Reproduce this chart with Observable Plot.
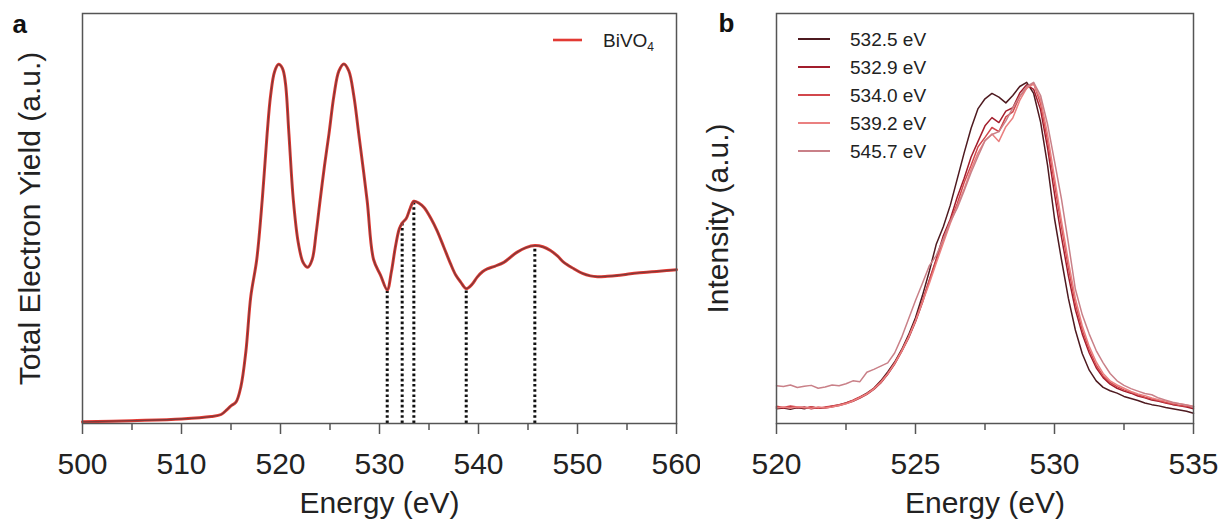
<!DOCTYPE html>
<html><head><meta charset="utf-8">
<script src="https://cdn.jsdelivr.net/npm/d3@7"></script>
<script src="https://cdn.jsdelivr.net/npm/@observablehq/plot@0.6"></script>
<style>
body{margin:0;background:#fff;}
#wrap{display:flex;width:1231px;height:520px;}
</style></head><body><div id="wrap"></div>
<script>
// ---------- Panel a data ----------
const energyA = [500, 505, 510, 513, 514, 514.6, 515.0, 515.5, 516.0, 516.5, 517.0, 517.6, 518.15, 518.65, 519.0, 519.4, 519.8, 520.2, 520.5, 520.85, 521.3, 521.8, 522.3, 522.76, 523.2, 523.6, 524.0, 524.45, 524.9, 525.4, 525.9, 526.4, 526.9, 527.4, 527.9, 528.75, 529.4, 530.1, 530.78, 531.2, 531.6, 532.0, 532.29, 532.7, 533.1, 533.47, 534.0, 534.5, 535.2, 535.8, 536.5, 537.17, 537.7, 538.2, 538.76, 539.3, 539.87, 540.4, 540.88, 541.7, 542.56, 543.2, 543.91, 544.8, 545.69, 546.5, 547.27, 548.0, 548.62, 549.6, 550.5, 551.3, 552.0, 553.0, 554.0, 555.0, 556.0, 557.0, 558.0, 559.0, 560.0];
const teyA = [0.004, 0.007, 0.011, 0.017, 0.022, 0.034, 0.043, 0.052, 0.09, 0.175, 0.31, 0.40, 0.544, 0.707, 0.80, 0.858, 0.876, 0.866, 0.83, 0.707, 0.544, 0.44, 0.392, 0.381, 0.40, 0.465, 0.544, 0.63, 0.707, 0.80, 0.86, 0.877, 0.86, 0.80, 0.707, 0.544, 0.40, 0.362, 0.326, 0.37, 0.43, 0.475, 0.489, 0.500, 0.525, 0.542, 0.537, 0.527, 0.50, 0.471, 0.43, 0.39, 0.362, 0.345, 0.329, 0.338, 0.357, 0.37, 0.377, 0.384, 0.393, 0.405, 0.418, 0.429, 0.434, 0.431, 0.422, 0.408, 0.393, 0.378, 0.366, 0.360, 0.358, 0.359, 0.361, 0.364, 0.367, 0.369, 0.371, 0.373, 0.375];
const dropEnergy = [530.78, 532.29, 533.47, 538.76, 545.69];
const dropTop = [0.326, 0.489, 0.542, 0.329, 0.434];
const majorTicksA = [500, 510, 520, 530, 540, 550, 560];
const minorTicksA = [505, 515, 525, 535, 545, 555];
const legendA = "BiVO";
const legendASub = "4";

// ---------- Panel b data ----------
const energyB = [520, 520.25, 520.5, 520.75, 521, 521.25, 521.5, 521.75, 522, 522.25, 522.5, 522.75, 523, 523.25, 523.5, 523.75, 524, 524.25, 524.5, 524.75, 525, 525.25, 525.5, 525.75, 526, 526.25, 526.5, 526.75, 527, 527.25, 527.5, 527.75, 528, 528.25, 528.5, 528.75, 529, 529.25, 529.5, 529.75, 530, 530.25, 530.5, 530.75, 531, 531.25, 531.5, 531.75, 532, 532.25, 532.5, 532.75, 533, 533.25, 533.5, 533.75, 534, 534.25, 534.5, 534.75, 535];
const s5325 = [0.036,0.038,0.035,0.039,0.036,0.040,0.037,0.039,0.042,0.045,0.050,0.056,0.064,0.074,0.086,0.104,0.126,0.150,0.180,0.216,0.258,0.312,0.372,0.438,0.480,0.532,0.596,0.660,0.720,0.768,0.792,0.805,0.796,0.782,0.800,0.822,0.832,0.805,0.735,0.630,0.500,0.400,0.305,0.228,0.170,0.130,0.104,0.088,0.080,0.074,0.066,0.061,0.056,0.050,0.046,0.043,0.039,0.036,0.033,0.030,0.025];
const s5329 = [0.040,0.037,0.041,0.038,0.040,0.036,0.039,0.038,0.041,0.044,0.049,0.054,0.062,0.071,0.083,0.099,0.120,0.145,0.175,0.208,0.248,0.295,0.350,0.402,0.458,0.498,0.552,0.598,0.650,0.688,0.726,0.746,0.734,0.762,0.770,0.806,0.826,0.815,0.765,0.672,0.560,0.455,0.360,0.278,0.218,0.172,0.136,0.112,0.096,0.086,0.079,0.074,0.067,0.063,0.057,0.054,0.050,0.046,0.043,0.040,0.036];
const s5340 = [0.042,0.039,0.043,0.040,0.038,0.041,0.037,0.040,0.043,0.046,0.050,0.057,0.065,0.073,0.086,0.102,0.122,0.148,0.178,0.212,0.252,0.300,0.350,0.398,0.448,0.495,0.536,0.588,0.630,0.675,0.698,0.722,0.712,0.748,0.760,0.798,0.818,0.830,0.780,0.690,0.585,0.480,0.380,0.292,0.228,0.180,0.142,0.116,0.100,0.090,0.082,0.076,0.070,0.064,0.060,0.056,0.051,0.048,0.044,0.042,0.040];
const s5392 = [0.038,0.040,0.037,0.041,0.039,0.037,0.040,0.038,0.040,0.044,0.048,0.055,0.063,0.072,0.084,0.100,0.121,0.146,0.176,0.210,0.250,0.296,0.342,0.392,0.440,0.488,0.530,0.572,0.620,0.660,0.690,0.706,0.688,0.724,0.745,0.788,0.818,0.828,0.790,0.705,0.600,0.495,0.395,0.305,0.238,0.188,0.150,0.122,0.104,0.094,0.086,0.078,0.072,0.068,0.062,0.058,0.055,0.050,0.048,0.045,0.042];
const s5457 = [0.092,0.090,0.094,0.088,0.091,0.093,0.086,0.089,0.094,0.092,0.097,0.104,0.102,0.125,0.132,0.140,0.148,0.172,0.210,0.255,0.300,0.342,0.385,0.410,0.450,0.492,0.525,0.568,0.612,0.652,0.690,0.705,0.712,0.738,0.770,0.798,0.822,0.832,0.800,0.730,0.640,0.548,0.440,0.328,0.265,0.218,0.178,0.148,0.122,0.104,0.093,0.085,0.079,0.073,0.070,0.062,0.057,0.052,0.048,0.045,0.041];
const seriesNames = ["532.5 eV", "532.9 eV", "534.0 eV", "539.2 eV", "545.7 eV"];
const seriesValues = [s5325, s5329, s5340, s5392, s5457];
const seriesColors = ["#4e1a20", "#a21d2c", "#d2474c", "#ea8080", "#c98088"];
const majorTicksB = [520, 525, 530, 535];
const minorTicksB = [522.5, 527.5, 532.5];

// ---------- Build ----------
const font = "'Liberation Sans', Arial, Helvetica, sans-serif";
const ink = "#222";
const axisGray = "#555";

const dataA = energyA.map((e, i) => ({e, v: teyA[i]}));
const drops = dropEnergy.map((e, i) => ({e, top: dropTop[i]}));

const plotA = Plot.plot({
  width: 700, height: 520,
  marginLeft: 82, marginRight: 24, marginTop: 13, marginBottom: 97,
  style: {fontFamily: font, fontSize: "30px", color: ink, background: "white", overflow: "visible"},
  x: {domain: [500, 560]},
  y: {domain: [0, 1], axis: null},
  marks: [
    Plot.ruleX(drops, {x: "e", y1: 0, y2: "top", stroke: "#111", strokeWidth: 3, strokeDasharray: "2.6,2.6"}),
    Plot.line(dataA, {x: "e", y: "v", stroke: "#e23a33", strokeWidth: 3, curve: "catmull-rom"}),
    Plot.line(dataA, {x: "e", y: "v", stroke: "#7e3a3a", strokeWidth: 1.3, curve: "catmull-rom"}),
    Plot.frame({stroke: axisGray, strokeWidth: 1.5}),
    Plot.axisX({ticks: minorTicksA, tickSize: 7, tickFormat: () => "", label: null, stroke: axisGray, strokeWidth: 1.5}),
    Plot.axisX({ticks: majorTicksA, tickSize: 11, tickPadding: 18, label: null, stroke: axisGray, strokeWidth: 1.5, fill: ink}),
    Plot.text(["Energy (eV)"], {frameAnchor: "bottom", lineAnchor: "middle", textAnchor: "middle", dy: 80, fontSize: 30, fill: ink}),
    Plot.text(["Total Electron Yield (a.u.)"], {frameAnchor: "left", textAnchor: "middle", lineAnchor: "middle", dx: -52, rotate: -90, fontSize: 30, fill: ink}),
    Plot.text(["a"], {frameAnchor: "top-left", lineAnchor: "middle", dx: -70, dy: 11, fontWeight: "bold", fontSize: 26, textAnchor: "start", fill: "#111"})
  ]
});

const dataB = [];
seriesNames.forEach((name, k) => {
  energyB.forEach((e, i) => dataB.push({e, v: seriesValues[k][i], s: name}));
});

const plotB = Plot.plot({
  width: 531, height: 520,
  marginLeft: 76, marginRight: 38, marginTop: 13, marginBottom: 97,
  style: {fontFamily: font, fontSize: "30px", color: ink, background: "white", overflow: "visible"},
  x: {domain: [520, 535]},
  y: {domain: [0, 1], axis: null},
  color: {domain: seriesNames, range: seriesColors},
  marks: [
    Plot.line(dataB, {x: "e", y: "v", z: "s", stroke: "s", strokeWidth: 1.5}),
    Plot.frame({stroke: axisGray, strokeWidth: 1.5}),
    Plot.axisX({ticks: minorTicksB, tickSize: 7, tickFormat: () => "", label: null, stroke: axisGray, strokeWidth: 1.5}),
    Plot.axisX({ticks: majorTicksB, tickSize: 11, tickPadding: 18, label: null, stroke: axisGray, strokeWidth: 1.5, fill: ink}),
    Plot.text(["Energy (eV)"], {frameAnchor: "bottom", lineAnchor: "middle", textAnchor: "middle", dy: 80, fontSize: 30, fill: ink}),
    Plot.text(["Intensity (a.u.)"], {frameAnchor: "left", textAnchor: "middle", lineAnchor: "middle", dx: -58, rotate: -90, fontSize: 30, fill: ink}),
    Plot.text(["b"], {frameAnchor: "top-left", lineAnchor: "middle", dx: -58, dy: 10, fontWeight: "bold", fontSize: 26, textAnchor: "start", fill: "#111"})
  ]
});

// Legends (drawn inside each SVG)
const gA = d3.select(plotA).append("g").attr("font-family", font).attr("text-anchor", "start");
gA.append("line").attr("x1", 553).attr("x2", 582).attr("y1", 40).attr("y2", 40)
  .attr("stroke", "#e23a33").attr("stroke-width", 2.6);
const tA = gA.append("text").attr("x", 603).attr("y", 47).attr("font-size", 19).attr("fill", ink);
tA.append("tspan").text(legendA);
tA.append("tspan").text(legendASub).attr("font-size", 12).attr("dy", 4);

const gB = d3.select(plotB).append("g").attr("font-family", font).attr("text-anchor", "start");
seriesNames.forEach((name, k) => {
  const y = 39 + k * 28;
  gB.append("line").attr("x1", 98).attr("x2", 130).attr("y1", y).attr("y2", y)
    .attr("stroke", seriesColors[k]).attr("stroke-width", 2);
  gB.append("text").attr("x", 150).attr("y", y).attr("dy", "0.35em")
    .attr("font-size", 19).attr("fill", ink).text(name);
});

const wrap = document.getElementById("wrap");
wrap.appendChild(plotA);
wrap.appendChild(plotB);
</script>
</body></html>
